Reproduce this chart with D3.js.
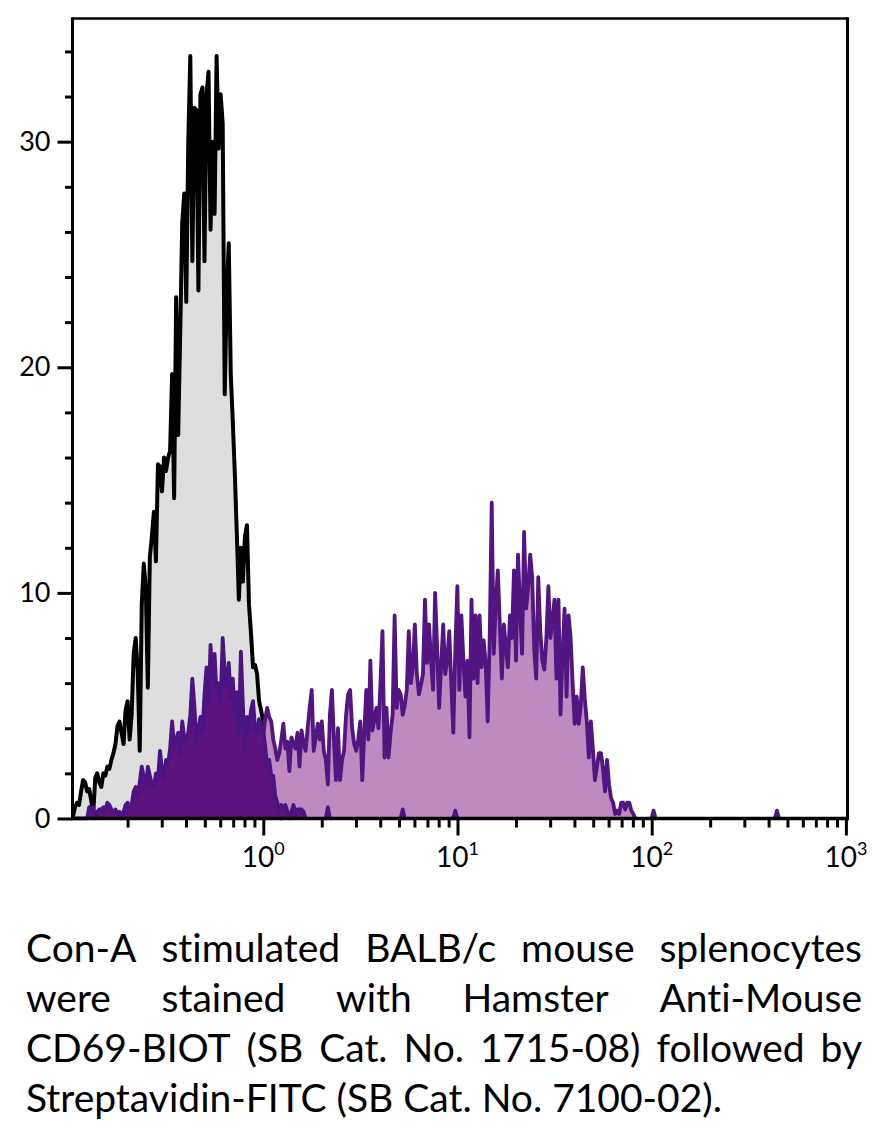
<!DOCTYPE html>
<html><head><meta charset="utf-8">
<script src="https://cdn.jsdelivr.net/npm/d3@7"></script>
<style>
html,body{margin:0;padding:0;background:#fff;}
svg{display:block;}
text{font-variant-ligatures:none;}
</style></head>
<body>
<svg id="chart" width="877" height="1129"></svg>
<script>
// ---- channel grid (log10 of fluorescence) ----
const binStartLog = -0.98;
const binsPerDecade = 96;

// Isotype / control histogram (grey fill, black line)
const isoStart = 0;
const isoCounts = [0.1,0.5,0.7,0.6,1.2,1.7,1.6,1.2,1.3,0.8,
 0.2,1.8,2.0,1.6,1.4,2.0,1.9,2.3,2.2,2.6,
 2.9,3.3,4.1,4.3,3.8,3.3,4.8,5.2,3.5,4.6,
 7.3,8.0,6.5,3.0,9.5,11.3,10.2,5.8,11.6,12.5,
 13.6,11.4,15.7,15.6,14.5,16.0,15.4,16.0,16.3,19.7,
 14.2,23.1,17.0,21.5,26.4,27.7,22.9,30.0,33.8,24.7,
 31.5,31.4,23.4,32.1,32.4,24.7,32.1,33.1,26.1,30.0,
 26.8,33.8,29.7,32.1,30.8,18.8,23.1,25.5,19.7,17.6,
 15.3,12.6,9.7,12.0,10.5,12.5,13.0,9.5,8.2,6.7,
 6.8,6.4,5.2,4.8,4.3,3.9,3.5,3.0,2.5,2.0,
 1.3,0.8,0.4,0];

// Dark purple histogram
const darkStart = 0;
const darkCounts = [0,0,0,0,0,0,0,0,0.5,0.4,
 0.5,0,0.3,0.4,0.4,0.5,0.4,0.7,0.6,0.4,
 0.3,0.4,0.2,0.3,0,0.3,0.6,0.7,0.5,0.6,
 1.2,1.4,1.0,1.6,2.3,1.8,1.4,2.3,1.9,1.5,
 1.4,2.0,1.7,3.0,2.2,1.7,2.6,2.4,3.1,4.3,
 3.2,3.5,3.8,2.9,4.3,3.6,3.5,3.8,4.6,6.2,
 5.0,3.3,4.0,4.5,3.8,5.5,6.7,5.0,7.7,6.1,
 7.3,5.5,6.0,5.2,8.0,6.5,5.8,6.9,5.3,6.2,
 4.5,5.6,3.8,7.4,5.0,3.0,4.5,4.0,4.8,5.2,
 4.0,3.8,4.4,4.0,3.9,3.2,2.3,2.6,1.9,1.9,
 1.0,0.7,0.3,0.6,0.5,0.6,0.3,0,0.3,0.6,
 0.3,0.4,0.4,0.4,0.3,0];
const darkTail = [[126,0.5],[163,0.4],[189,0.35]];

// Light purple histogram
const lightStart = 86;
const lightCounts = [0.5,1.0,1.5,2.0,2.5,3.0,3.5,4.0,3.6,4.4,
 4.9,4.5,4.3,3.5,3.1,2.6,2.9,3.5,4.2,3.1,
 3.4,2.1,3.6,3.3,3.1,3.8,2.3,3.9,3.3,3.0,
 4.0,4.9,5.7,3.0,3.6,4.2,3.5,4.3,3.0,2.6,
 1.5,4.6,5.7,3.5,1.7,4.0,1.7,2.6,3.0,4.6,
 5.5,5.7,4.0,3.3,3.0,3.5,4.3,1.7,3.8,5.7,
 3.5,7.0,3.9,4.4,4.9,4.0,6.0,8.3,2.7,4.9,
 2.7,3.8,4.6,9.0,4.9,5.7,5.5,4.6,5.0,5.7,
 8.3,6.0,6.7,8.6,6.4,5.5,5.9,6.4,9.7,6.9,
 8.6,7.0,5.7,10.0,7.6,4.9,6.8,8.6,6.4,7.0,
 8.3,6.0,3.8,7.5,10.3,5.7,9.0,7.0,5.4,7.0,
 3.6,9.7,6.2,9.0,6.0,9.0,6.7,7.9,6.9,4.3,
 8.0,14.0,7.3,9.5,11.0,8.6,6.2,8.6,7.6,6.7,
 9.0,8.0,11.0,7.0,11.7,9.3,7.3,12.7,9.3,10.2,
 11.7,10.7,7.5,6.2,10.7,8.3,7.0,6.6,8.0,10.3,
 8.0,8.8,9.7,6.2,9.7,4.6,7.3,9.3,5.4,9.0,
 8.0,6.0,4.2,5.4,4.2,5.0,6.7,5.3,4.3,2.7,
 4.3,3.1,1.7,2.3,2.9,2.9,2.2,1.2,2.6,1.5,
 0.9,0.7,0.2,0.35,0.2,0.7,0.7,0.4,0.7,0.7,
 0.35,0.2,0];
const lightTail = [[287,0.35],[348,0.35]];

// Axis ticks
const yTicksMajor = [0,10,20,30];
const yTicksMinor = [2,4,6,8,12,14,16,18,22,24,26,28,32,34];
const xDecadeExponents = [0,1,2,3];
const xMinorDecades = [-1,0,1,2];
const xMinorMultipliers = [2,3,4,5,6,7,8,9];

const captionLines = [
  "Con-A stimulated BALB/c mouse splenocytes",
  "were stained with Hamster Anti-Mouse",
  "CD69-BIOT (SB Cat. No. 1715-08) followed by",
  "Streptavidin-FITC (SB Cat. No. 7100-02)."
];

// ---- layout ----
const L = 72.5, R = 848, T = 18.5, B = 818.5;
const svg = d3.select("#chart");

const x = d3.scaleLog()
  .domain([Math.pow(10,-0.9825), Math.pow(10,3.0108)])
  .range([L, R]);
const y = d3.scaleLinear().domain([0, 35.46]).range([B, T]);

const chVal = ch => Math.pow(10, binStartLog + ch / binsPerDecade);
const toPts = (start, arr) => arr.map((v,k) => ({ch: start + k, v}));
const tailPts = t => [{ch:t[0]-1, v:0},{ch:t[0], v:t[1]},{ch:t[0]+1, v:0}];

const area = d3.area().x(d => x(chVal(d.ch))).y0(y(0)).y1(d => y(d.v));
const line = d3.line().x(d => x(chVal(d.ch))).y(d => y(d.v));

svg.append("defs").append("clipPath").attr("id","plotclip")
  .append("rect").attr("x",L).attr("y",T).attr("width",R-L).attr("height",B-T+2);

const g = svg.append("g").attr("clip-path","url(#plotclip)");

function drawSeries(pts, fill, stroke, sw){
  g.append("path").datum(pts).attr("d", area).attr("fill", fill).attr("stroke","none");
  g.append("path").datum(pts).attr("d", line).attr("fill","none")
    .attr("stroke", stroke).attr("stroke-width", sw).attr("stroke-linejoin","round").attr("stroke-linecap","round");
}

drawSeries(toPts(isoStart, isoCounts), "#dedede", "#000", 4);
drawSeries(toPts(lightStart, lightCounts), "#c08ac0", "#521582", 3.8);
lightTail.forEach(t => drawSeries(tailPts(t), "#c08ac0", "#521582", 3.8));
drawSeries(toPts(darkStart, darkCounts), "#5d137d", "#4a1582", 3.8);
darkTail.forEach(t => drawSeries(tailPts(t), "#5d137d", "#4a1582", 3.8));

// ---- axes ----
const fontAxis = "Lato, 'Open Sans', sans-serif";
const yMaj = svg.append("g").attr("transform",`translate(${L},0)`)
  .call(d3.axisLeft(y).tickValues(yTicksMajor).tickSize(15).tickPadding(7).tickFormat(d3.format("d")));
const yMin = svg.append("g").attr("transform",`translate(${L},0)`)
  .call(d3.axisLeft(y).tickValues(yTicksMinor).tickSize(7.5).tickFormat(""));
const xMaj = svg.append("g").attr("transform",`translate(0,${B})`)
  .call(d3.axisBottom(x).tickValues(xDecadeExponents.map(e => Math.pow(10,e))).tickSize(17).tickFormat(""));
const xMinVals = [];
xMinorDecades.forEach(e => xMinorMultipliers.forEach(m => xMinVals.push(m*Math.pow(10,e))));
const xMin = svg.append("g").attr("transform",`translate(0,${B})`)
  .call(d3.axisBottom(x).tickValues(xMinVals.filter(v => v > x.domain()[0])).tickSize(9).tickFormat(""));

[yMaj,yMin,xMaj,xMin].forEach(a => {
  a.select(".domain").remove();
  a.selectAll(".tick line").attr("stroke","#000").attr("stroke-width",3);
});
yMaj.selectAll(".tick text").attr("font-family",fontAxis).attr("font-size",27).attr("fill","#000");

// x labels 10^n
xDecadeExponents.forEach(e => {
  const t = svg.append("text").attr("x", x(Math.pow(10,e))).attr("y", 867)
    .attr("text-anchor","middle").attr("font-family",fontAxis).attr("font-size",28).attr("fill","#000");
  t.append("tspan").text("10");
  t.append("tspan").attr("dy",-12).attr("font-size",18).text(String(e));
});

// frame
const frame = svg.append("g").attr("stroke","#000").attr("fill","none");
frame.append("line").attr("x1",L).attr("x2",R).attr("y1",T).attr("y2",T).attr("stroke-width",2.5);
frame.append("line").attr("x1",R-0.5).attr("x2",R-0.5).attr("y1",T-1.2).attr("y2",B+1.5).attr("stroke-width",3);
frame.append("line").attr("x1",L).attr("x2",L).attr("y1",T-1.2).attr("y2",B+1.5).attr("stroke-width",3);
frame.append("line").attr("x1",L-1.5).attr("x2",R+1).attr("y1",B).attr("y2",B).attr("stroke-width",3.3);

// ---- caption (justified) ----
const capLeft = 26, capRight = 862, capFont = 39;
const baselines = [962, 1012, 1062, 1112];
const cap = svg.append("g").attr("font-family","Lato, 'Open Sans', sans-serif")
  .attr("font-size",capFont).attr("fill","#000");
captionLines.forEach((ln, li) => {
  const words = ln.split(" ");
  if (li === captionLines.length - 1) {
    cap.append("text").attr("x",capLeft).attr("y",baselines[li]).text(ln);
    return;
  }
  const nodes = words.map(w => cap.append("text").attr("y",baselines[li]).text(w));
  const widths = nodes.map(n => n.node().getComputedTextLength());
  const total = d3.sum(widths);
  const gap = (capRight - capLeft - total) / (words.length - 1);
  let cx = capLeft;
  nodes.forEach((n,k) => { n.attr("x", cx); cx += widths[k] + gap; });
});
</script>
</body></html>
